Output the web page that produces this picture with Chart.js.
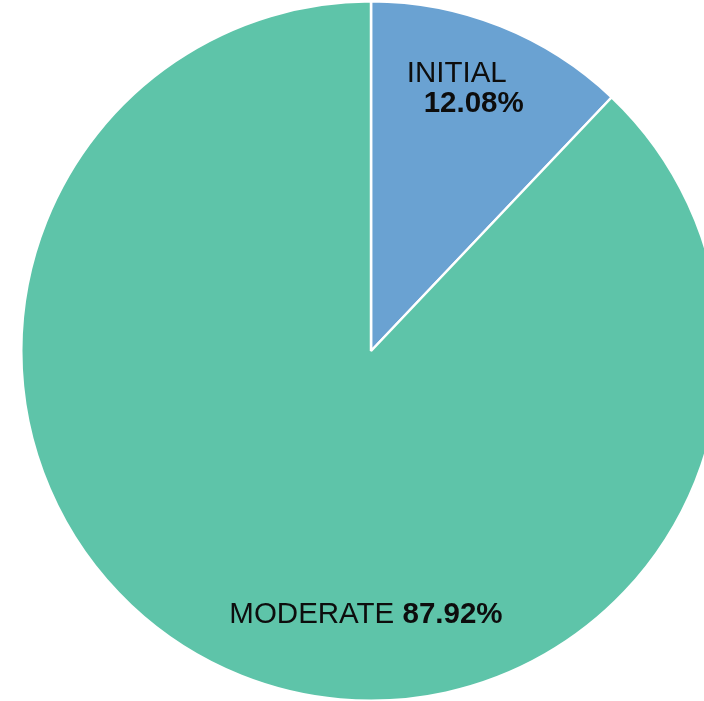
<!DOCTYPE html>
<html>
<head>
<meta charset="utf-8">
<script src="https://cdn.jsdelivr.net/npm/chart.js@4"></script>
<style>
  html, body { margin: 0; padding: 0; background: #fff; overflow: hidden; }
  #wrap { position: absolute; left: 0; top: 0; width: 742px; height: 702px; }
</style>
</head>
<body>
<div id="wrap"><canvas id="pieChart"></canvas></div>
<script>
var labels = ['INITIAL', 'MODERATE'];
var values = [12.08, 87.92];
var colors = ['#6aa2d2', '#5ec4a9'];

// where each label sits: angle (deg, 0 = right, clockwise) and fraction of radius
var labelSpots = [
    { angle: -70.3, dist: 0.795, lines: true },
    { angle: 91.1, dist: 0.755, lines: false }
];

var FONT = '"Liberation Sans", Arial, sans-serif';

var sliceLabels = {
    id: 'sliceLabels',
    afterDatasetsDraw: function(chart) {
        var ctx = chart.ctx;
        var meta = chart.getDatasetMeta(0);
        ctx.save();
        ctx.fillStyle = '#0d0d0d';
        ctx.textBaseline = 'middle';
        meta.data.forEach(function(arc, i) {
            var p = arc.getProps(['x', 'y', 'outerRadius'], true);
            var spot = labelSpots[i];
            var a = spot.angle * Math.PI / 180;
            var cx = p.x + Math.cos(a) * p.outerRadius * spot.dist;
            var cy = p.y + Math.sin(a) * p.outerRadius * spot.dist;
            var name = labels[i];
            var pct = values[i].toFixed(2) + '%';
            if (spot.lines) {
                ctx.textAlign = 'center';
                ctx.font = '29.5px ' + FONT;
                ctx.fillText(name, cx - 8, cy - 15);
                ctx.font = 'bold 29.5px ' + FONT;
                ctx.fillText(pct, cx + 9, cy + 15);
            } else {
                ctx.textAlign = 'left';
                ctx.font = '29.5px ' + FONT;
                var w1 = ctx.measureText(name + ' ').width;
                ctx.font = 'bold 29.5px ' + FONT;
                var w2 = ctx.measureText(pct).width;
                var x0 = cx - (w1 + w2) / 2;
                ctx.font = '29.5px ' + FONT;
                ctx.fillText(name + ' ', x0, cy);
                ctx.font = 'bold 29.5px ' + FONT;
                ctx.fillText(pct, x0 + w1, cy);
            }
        });
        ctx.restore();
    }
};

window.onload = function() {
    var ctx = document.getElementById('pieChart').getContext('2d');
    new Chart(ctx, {
        type: 'pie',
        data: {
            labels: labels,
            datasets: [{
                data: values,
                backgroundColor: colors,
                borderColor: '#ffffff',
                borderWidth: 2.5
            }]
        },
        options: {
            responsive: true,
            maintainAspectRatio: false,
            animation: false,
            layout: { padding: 0 },
            plugins: {
                legend: { display: false },
                tooltip: { enabled: false }
            }
        },
        plugins: [sliceLabels]
    });
};
</script>
</body>
</html>
